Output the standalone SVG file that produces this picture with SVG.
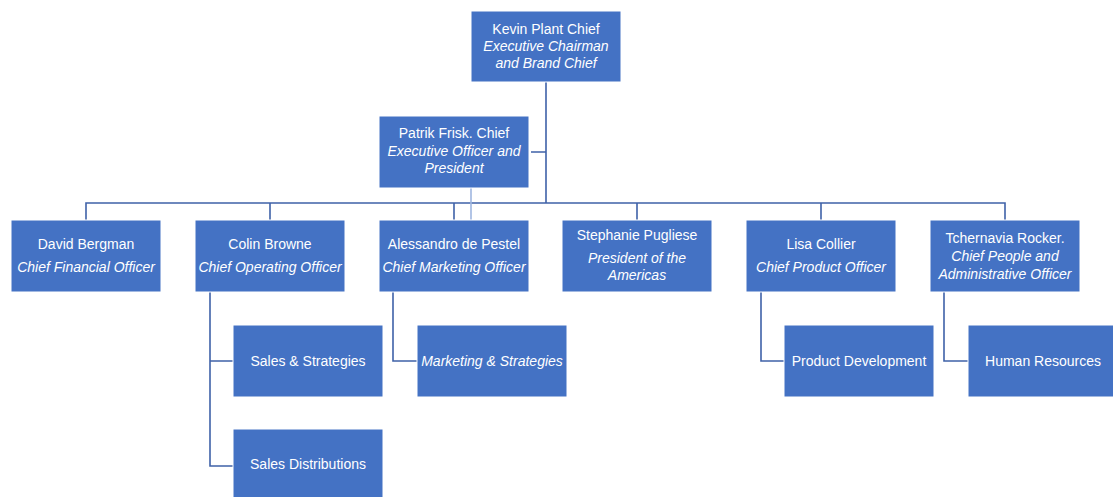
<svg xmlns="http://www.w3.org/2000/svg" width="1113" height="497" viewBox="0 0 1113 497">
<style>
.box{fill:#4472C4;stroke:#ffffff;stroke-width:1}
.t{font-family:"Liberation Sans",Arial,sans-serif;font-size:14px;fill:#ffffff;text-anchor:middle}
.i{font-style:italic}
.ln{fill:none;stroke:#3f62a8;stroke-width:1.6}
.lt{fill:none;stroke:#9fb6e0;stroke-width:1.6}
</style>
<rect width="1113" height="497" fill="#ffffff"/>
<g id="connectors">
<path class="ln" d="M546 82V203M531 152H546M86 220V203H1005V220M270 203V220M454 203V220M637 203V220M821 203V220"/>
<path class="lt" d="M471 188V220"/>
<path class="ln" d="M210 292V466H233M210 361H233M393 292V361H417M761 292V361H784M944 292V361H968"/>
</g>
<g id="kevin"><rect class="box" x="471" y="11" width="150" height="71"/>
<text class="t" x="546" y="34">Kevin Plant Chief</text>
<text class="t i" x="546" y="51">Executive Chairman</text>
<text class="t i" x="546" y="68">and Brand Chief</text></g>
<g id="patrik"><rect class="box" x="379" y="116" width="150" height="72"/>
<text class="t" x="454" y="138">Patrik Frisk. Chief</text>
<text class="t i" x="454" y="156">Executive Officer and</text>
<text class="t i" x="454" y="173">President</text></g>
<g id="david"><rect class="box" x="11" y="220" width="150" height="72"/>
<text class="t" x="86" y="249">David Bergman</text>
<text class="t i" x="86" y="272">Chief Financial Officer</text></g>
<g id="colin"><rect class="box" x="195" y="220" width="150" height="72"/>
<text class="t" x="270" y="249">Colin Browne</text>
<text class="t i" x="270" y="272">Chief Operating Officer</text></g>
<g id="alessandro"><rect class="box" x="379" y="220" width="150" height="72"/>
<text class="t" x="454" y="249">Alessandro de Pestel</text>
<text class="t i" x="454" y="272">Chief Marketing Officer</text></g>
<g id="stephanie"><rect class="box" x="562" y="220" width="150" height="72"/>
<text class="t" x="637" y="240">Stephanie Pugliese</text>
<text class="t i" x="637" y="263">President of the</text>
<text class="t i" x="637" y="280">Americas</text></g>
<g id="lisa"><rect class="box" x="746" y="220" width="150" height="72"/>
<text class="t" x="821" y="249">Lisa Collier</text>
<text class="t i" x="821" y="272">Chief Product Officer</text></g>
<g id="tchernavia"><rect class="box" x="930" y="220" width="150" height="72"/>
<text class="t" x="1005" y="243">Tchernavia Rocker.</text>
<text class="t i" x="1005" y="261">Chief People and</text>
<text class="t i" x="1005" y="279">Administrative Officer</text></g>
<g id="sales-strategies"><rect class="box" x="233" y="325" width="150" height="72"/>
<text class="t" x="308" y="366">Sales &amp; Strategies</text></g>
<g id="sales-distributions"><rect class="box" x="233" y="429" width="150" height="72"/>
<text class="t" x="308" y="469">Sales Distributions</text></g>
<g id="marketing-strategies"><rect class="box" x="417" y="325" width="150" height="72"/>
<text class="t i" x="492" y="366">Marketing &amp; Strategies</text></g>
<g id="product-development"><rect class="box" x="784" y="325" width="150" height="72"/>
<text class="t" x="859" y="366">Product Development</text></g>
<g id="human-resources"><rect class="box" x="968" y="325" width="150" height="72"/>
<text class="t" x="1043" y="366">Human Resources</text></g>
</svg>
